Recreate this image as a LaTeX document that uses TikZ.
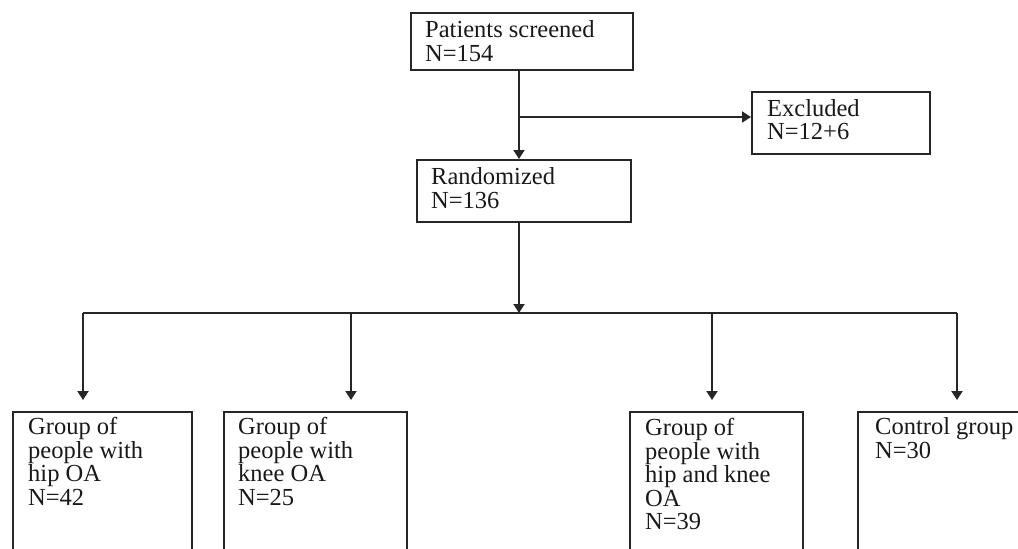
\documentclass[tikz,border=0pt]{standalone}
\usepackage{fontspec}
\setmainfont{Liberation Serif}
\usetikzlibrary{arrows.meta,calc}
\begin{document}
\begin{tikzpicture}[x=1pt,y=-1pt,
  line/.style={draw=black!85,line width=1.9pt},
  arr/.style={line,-{Triangle[length=9pt,width=11pt]}},
  boxshape/.style={draw=black!85,line width=1.9pt,rectangle,inner sep=0pt,anchor=north west},
  txt/.style={anchor=north west,inner sep=0pt,align=left,text=black!90,font=\fontsize{24.5}{23.5}\selectfont}]
\useasboundingbox (0,0) rectangle (1018,549);
\clip (0,0) rectangle (1018,549);
% boxes
\node[boxshape,minimum width=222pt,minimum height=57pt] (p) at (410,12) {};
\node[boxshape,minimum width=178pt,minimum height=62pt] (ex) at (751,91) {};
\node[boxshape,minimum width=214pt,minimum height=62pt] (r) at (416,159) {};
\node[boxshape,minimum width=179pt,minimum height=160pt] (g1) at (12,411) {};
\node[boxshape,minimum width=183pt,minimum height=160pt] (g2) at (223,411) {};
\node[boxshape,minimum width=173pt,minimum height=160pt] (g3) at (629,411) {};
\node[boxshape,minimum width=190pt,minimum height=160pt] (g4) at (857,411) {};
% texts
\node[txt] (pt) at (425,20.3) {Patients screened\\N=154};
\node[txt] (ext) at (767,99) {Excluded\\N=12+6};
\node[txt] (rt) at (431,167.3) {Randomized\\N=136};
\node[txt] (g1t) at (28,417.3) {Group of\\people with\\hip OA\\N=42};
\node[txt] (g2t) at (238,417.3) {Group of\\people with\\knee OA\\N=25};
\node[txt] (g3t) at (645,418.3) {Group of\\people with\\hip and knee\\OA\\N=39};
\node[txt] (g4t) at (875,417.3) {Control group\\N=30};
% coordinates
\coordinate (spine) at (519,0);
\coordinate (branch) at (519,117);
\coordinate (d1) at (83,313);
\coordinate (d2) at (351,313);
\coordinate (d3) at (712,313);
\coordinate (d4) at (957,313);
% connectors
\draw[arr] (p.south -| spine) -- (r.north -| spine);
\draw[arr] (branch) -- (branch -| ex.west);
\draw[arr] (r.south -| spine) -- (spine |- d1);
\draw[line] (d1) -- (d4);
\draw[arr,shorten >=11pt] (d1) -- (d1 |- g1.north);
\draw[arr,shorten >=11pt] (d2) -- (d2 |- g2.north);
\draw[arr,shorten >=11pt] (d3) -- (d3 |- g3.north);
\draw[arr,shorten >=11pt] (d4) -- (d4 |- g4.north);
\end{tikzpicture}
\end{document}
